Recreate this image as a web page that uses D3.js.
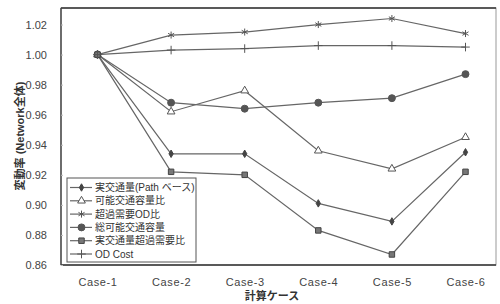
<!DOCTYPE html>
<html>
<head>
<meta charset="utf-8">
<script src="https://cdn.jsdelivr.net/npm/d3@7"></script>
<style>
  body { margin: 0; background: #fff; }
  text { font-family: "Liberation Sans", "Noto Sans CJK JP", sans-serif; fill: #333; }
</style>
</head>
<body>
<div id="chart"></div>
<script>
// Data
var cases = ["Case-1", "Case-2", "Case-3", "Case-4", "Case-5", "Case-6"];
var seriesNames = ["実交通量(Path ベース)", "可能交通容量比", "超過需要OD比", "総可能交通容量", "実交通量超過需要比", "OD Cost"];
var pathFlow     = [1.000, 0.934, 0.934, 0.901, 0.889, 0.935];
var capRatio     = [1.000, 0.962, 0.976, 0.936, 0.924, 0.945];
var excessOD     = [1.000, 1.013, 1.015, 1.020, 1.024, 1.014];
var totalCap     = [1.000, 0.968, 0.964, 0.968, 0.971, 0.987];
var flowExcess   = [1.000, 0.922, 0.920, 0.883, 0.867, 0.922];
var odCost       = [1.000, 1.003, 1.004, 1.006, 1.006, 1.005];
var yTicks = [0.86, 0.88, 0.90, 0.92, 0.94, 0.96, 0.98, 1.00, 1.02];

var allSeries = [pathFlow, capRatio, excessOD, totalCap, flowExcess, odCost];

var svgWidth = 500;
var svgHeight = 304;
var margin = { top: 8, right: 4, bottom: 39, left: 61 };
var chartWidth = svgWidth - margin.left - margin.right;
var chartHeight = svgHeight - margin.top - margin.bottom;

var svg = d3.select("#chart")
  .append("svg")
  .attr("width", svgWidth)
  .attr("height", svgHeight);

var chartGroup = svg.append("g")
  .attr("transform", `translate(${margin.left}, ${margin.top})`);

var xScale = d3.scalePoint()
  .domain(cases)
  .range([36.5, 404.5]);

var yScale = d3.scaleLinear()
  .domain([0.86, 1.031])
  .range([chartHeight, 0]);

// marker style per series
var markers = [
  { type: d3.symbolDiamond, size: 16, fill: "#444", stroke: "#444" },
  { type: d3.symbolTriangle, size: 26, fill: "#fff", stroke: "#555" },
  { type: d3.symbolAsterisk || d3.symbolCross, size: 34, fill: "none", stroke: "#555" },
  { type: d3.symbolCircle, size: 38, fill: "#555", stroke: "#555" },
  { type: d3.symbolSquare, size: 30, fill: "#777", stroke: "#444" },
  { type: d3.symbolPlus || d3.symbolCross, size: 26, fill: "none", stroke: "#555" }
];

// frame
chartGroup.append("rect")
  .attr("width", chartWidth)
  .attr("height", chartHeight)
  .attr("fill", "none")
  .attr("stroke", "#999")
  .attr("stroke-width", 1);
chartGroup.append("line")
  .attr("x1", 0).attr("x2", chartWidth).attr("y1", 0).attr("y2", 0)
  .attr("stroke", "#333").attr("stroke-width", 1.6);
chartGroup.append("line")
  .attr("x1", 0).attr("x2", chartWidth).attr("y1", chartHeight).attr("y2", chartHeight)
  .attr("stroke", "#333").attr("stroke-width", 1.6);
chartGroup.append("line")
  .attr("x1", 0).attr("x2", 0).attr("y1", 0).attr("y2", chartHeight)
  .attr("stroke", "#444").attr("stroke-width", 1.4);

// left axis
var leftAxis = d3.axisLeft(yScale)
  .tickValues(yTicks)
  .tickFormat(d3.format(".2f"))
  .tickSize(-2)
  .tickPadding(14);
var yAxisG = chartGroup.append("g").call(leftAxis);
yAxisG.select(".domain").remove();
yAxisG.selectAll("line").attr("stroke", "#bbb");
yAxisG.selectAll("text").attr("font-size", 11).style("fill", "#444");

// bottom labels
var bottomAxis = d3.axisBottom(xScale).tickSize(0).tickPadding(13);
var xAxisG = chartGroup.append("g")
  .attr("transform", `translate(0, ${chartHeight})`)
  .call(bottomAxis);
xAxisG.select(".domain").remove();
xAxisG.selectAll("text")
  .attr("font-size", 11)
  .style("letter-spacing", "0.6px")
  .style("fill", "#444");

// axis titles
svg.append("text")
  .attr("transform", "translate(24, 136) rotate(-90)")
  .attr("text-anchor", "middle")
  .attr("font-size", 11)
  .attr("font-weight", "bold")
  .text("変動率 (Network全体)");

svg.append("text")
  .attr("x", 272)
  .attr("y", 300)
  .attr("text-anchor", "middle")
  .attr("font-size", 11)
  .attr("font-weight", "bold")
  .text("計算ケース");

var line = d3.line()
  .x(function (d, i) { return xScale(cases[i]); })
  .y(function (d) { return yScale(d); });

// lines
chartGroup.selectAll(".series")
  .data(allSeries)
  .enter().append("path")
    .attr("class", "series")
    .attr("d", line)
    .attr("fill", "none")
    .attr("stroke", "#666")
    .attr("stroke-width", 1.2);

// markers
allSeries.forEach(function (values, s) {
  var m = markers[s];
  chartGroup.selectAll(".m" + s)
    .data(values)
    .enter().append("path")
      .attr("class", "m" + s)
      .attr("transform", function (d, i) { return `translate(${xScale(cases[i])}, ${yScale(d)})`; })
      .attr("d", d3.symbol().type(m.type).size(m.size))
      .attr("fill", m.fill)
      .attr("stroke", m.stroke)
      .attr("stroke-width", 1);
});

// legend
var legend = svg.append("g").attr("transform", "translate(67, 178)");
legend.append("rect")
  .attr("width", 129)
  .attr("height", 84)
  .attr("fill", "#fff")
  .attr("stroke", "#555")
  .attr("stroke-width", 1);

var rows = legend.selectAll(".row")
  .data(seriesNames)
  .enter().append("g")
    .attr("transform", function (d, i) { return `translate(0, ${9.5 + i * 13.3})`; });

rows.append("line")
  .attr("x1", 3).attr("x2", 25)
  .attr("stroke", "#666")
  .attr("stroke-width", 1.2);

rows.append("path")
  .attr("transform", "translate(14.5, 0)")
  .attr("d", function (d, i) { return d3.symbol().type(markers[i].type).size(markers[i].size)(); })
  .attr("fill", function (d, i) { return markers[i].fill; })
  .attr("stroke", function (d, i) { return markers[i].stroke; })
  .attr("stroke-width", 1);

rows.append("text")
  .attr("x", 28)
  .attr("dy", "0.35em")
  .attr("font-size", 10)
  .text(function (d) { return d; });
</script>
</body>
</html>
